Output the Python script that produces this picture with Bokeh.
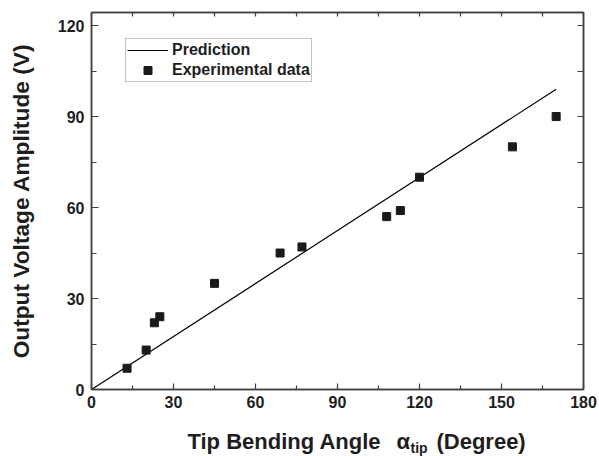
from bokeh.plotting import figure
from bokeh.layouts import column
from bokeh.models import (Range1d, LinearAxis, FixedTicker, Legend, LegendItem)
from bokeh.core.properties import value
from bokeh.embed import file_html
from bokeh.resources import INLINE

# ---- data ----
exp_angle = [13, 20, 23, 25, 45, 69, 77, 108, 113, 120, 154, 170]
exp_voltage = [7, 13, 22, 24, 35, 45, 47, 57, 59, 70, 80, 90]
pred_angle = [0, 170]
pred_voltage = [0, 99]
x_major = [0, 30, 60, 90, 120, 150, 180]
x_minor = [15, 45, 75, 105, 135, 165]
y_major = [0, 30, 60, 90, 120]
y_minor = [15, 45, 75, 105]
x_title_parts = ["Tip Bending Angle", "\u03b1", "tip", "(Degree)"]
y_title = "Output Voltage Amplitude (V)"

FONT = "Liberation Sans"
AX = "#404040"
TXT = "#1e1e1e"
W = 599

p = figure(width=W, height=419, x_range=Range1d(0, 180), y_range=Range1d(0, 124.3),
           output_backend="svg", toolbar_location=None,
           min_border_left=91, min_border_right=16, min_border_top=12, min_border_bottom=30)
p.xgrid.visible = False
p.ygrid.visible = False
p.outline_line_color = AX
p.outline_line_width = 1.5
p.background_fill_color = "white"
p.border_fill_color = "white"

def style_axis(ax, major, minor, tin, mtin):
    ax.ticker = FixedTicker(ticks=major, minor_ticks=minor)
    ax.major_tick_in = tin
    ax.major_tick_out = 0
    ax.minor_tick_in = mtin
    ax.minor_tick_out = 0
    ax.axis_line_color = AX
    ax.axis_line_width = 1.5
    ax.major_tick_line_color = AX
    ax.major_tick_line_width = 1.2
    ax.minor_tick_line_color = AX
    ax.minor_tick_line_width = 1.2
    ax.major_label_text_font = FONT
    ax.major_label_text_font_style = "bold"
    ax.major_label_text_font_size = "16px"
    ax.major_label_text_color = TXT

style_axis(p.xaxis[0], x_major, x_minor, 6, 4)
p.xaxis[0].major_label_standoff = 6
style_axis(p.yaxis[0], y_major, y_minor, 7, 5)
p.yaxis[0].major_label_standoff = 7
yax = p.yaxis[0]
yax.axis_label = y_title
yax.axis_label_text_font = FONT
yax.axis_label_text_font_style = "bold"
yax.axis_label_text_font_size = "22.7px"
yax.axis_label_text_color = TXT
yax.axis_label_standoff = 21

def mirror_axis(ticks, tin):
    return LinearAxis(ticker=FixedTicker(ticks=ticks), major_tick_in=tin, major_tick_out=0,
                      minor_tick_line_color=None, major_label_text_font_size="1px",
                      major_label_text_color=None, major_label_standoff=0,
                      axis_line_color=AX, axis_line_width=1.5,
                      major_tick_line_color=AX, major_tick_line_width=1.2)

p.add_layout(mirror_axis(list(range(0, 181, 15)), 4), "above")
p.add_layout(mirror_axis(list(range(0, 121, 15)), 6), "right")

line_r = p.line(pred_angle, pred_voltage, line_color="black", line_width=1.2)
sc_r = p.scatter(exp_angle, exp_voltage, marker="square", size=8,
                 fill_color="#1a1a1a", line_color="#1a1a1a")

legend = Legend(items=[LegendItem(label="Prediction", renderers=[line_r]),
                       LegendItem(label="Experimental data", renderers=[sc_r])],
                location=(34, 307), padding=1, spacing=0, margin=0,
                glyph_width=41, glyph_height=20, label_height=20, label_standoff=4,
                label_text_font=FONT, label_text_font_style="bold",
                label_text_font_size="16px", label_text_color=TXT,
                border_line_color="#888888", border_line_width=1,
                background_fill_color="white", background_fill_alpha=1)
p.add_layout(legend)

# ---- x-axis title strip (frame aligned with the main plot; x in angle units) ----
H2 = 37
t = figure(width=W, height=H2, x_range=Range1d(0, 180), y_range=Range1d(0, H2),
           output_backend="svg", toolbar_location=None,
           min_border_left=91, min_border_right=16, min_border_top=0, min_border_bottom=0,
           x_axis_type=None, y_axis_type=None)
t.title.visible = False
t.xgrid.visible = False
t.ygrid.visible = False
t.outline_line_color = None
t.border_fill_color = "white"
t.background_fill_color = "white"

t.text(x=[35.1, 111.6, 126.2], y=[14.7, 14.7, 14.7],
       text=[x_title_parts[0], x_title_parts[1], x_title_parts[3]],
       text_font=value(FONT), text_font_style="bold", text_font_size="22px",
       text_color=TXT, text_baseline="middle", text_align="left")
t.text(x=[116.7], y=[8.5], text=[x_title_parts[2]], text_font=value(FONT),
       text_font_style="bold", text_font_size="14px", text_color=TXT,
       text_baseline="middle", text_align="left")

layout = column(p, t, spacing=0)
open("out.html", "w").write(file_html(layout, INLINE))
